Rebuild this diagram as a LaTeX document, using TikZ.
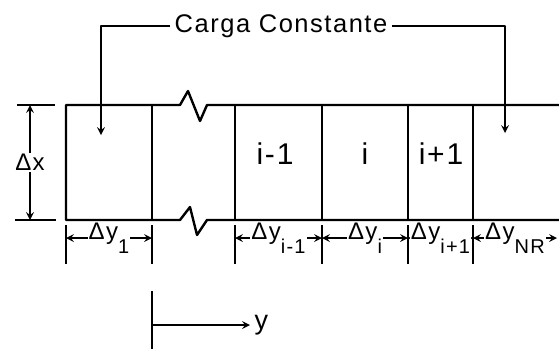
\documentclass[tikz,border=0pt]{standalone}
\usepackage{fontspec}
\setmainfont{Liberation Sans}[LetterSpace=6]
\newcommand\dely[1]{Δy\raisebox{-1.1ex}{\fontsize{20}{22}\selectfont #1}}
\begin{document}
\begin{tikzpicture}[x=1pt, y=-1pt, line width=2.4pt, line join=round, >=stealth,
	font=\fontsize{24}{28}\selectfont,
	lbl/.style={fill=white, inner sep=1pt},
	tick/.style={line width=1.8pt}]
	\useasboundingbox (0,0) rectangle (559,349);
	% cells with break
	\draw (559,105) -- (207,105) -- (200,121) -- (188,91) -- (180,105) -- (66,105) -- (66,220) -- (180,220) -- (190,207) -- (197,235) -- (207,220) -- (559,220);
	\foreach \x in {152,235,322,408,473} \draw (\x,105) -- (\x,220);
	\node[font=\fontsize{30}{34}\selectfont] (cim) at (275,154) {i-1};
	\node[font=\fontsize{30}{34}\selectfont] (ci) at (365,154) {i};
	\node[font=\fontsize{30}{34}\selectfont] (cip) at (441,154) {i+1};
	% constant load
	\node[font=\fontsize{25.5}{30}\selectfont] (carga) at (281,26) {Carga Constante};
	\coordinate (pl) at (101,135);
	\coordinate (pr) at (505,133);
	\draw[->] (carga.west) -| (pl);
	\draw[->] (carga.east) -| (pr);
	% dx
	\draw[tick] (17,105) -- (55,105);
	\draw[tick] (15,220) -- (56,220);
	\draw[<->] (30,105) -- (30,220) node[lbl, midway] (dx) {Δx};
	% dy
	\foreach \x in {66,152,235,322,408,473} \draw[tick] (\x,225) -- (\x,264);
	\draw[<->] (66,238) -- (152,238) node[lbl, midway] (dy1) {\dely{1}};
	\draw[<->] (235,238) -- (322,238) node[lbl, midway] (dyim) {\dely{i-1}};
	\draw[<->] (322,238) -- (408,238) node[lbl, midway] (dyi) {\dely{i}};
	\draw[<->] (408,238) -- (473,238) node[lbl, midway] (dyip) {\dely{i+1}};
	\draw[<->] (473,238) -- (557,238) node[lbl, midway] (dynr) {\dely{NR}};
	% y axis
	\draw (152,291) -- (152,349);
	\draw[->] (152,325) -- (250,325) node[right, font=\fontsize{27}{30}\selectfont] (ay) {y};
\end{tikzpicture}
\end{document}
